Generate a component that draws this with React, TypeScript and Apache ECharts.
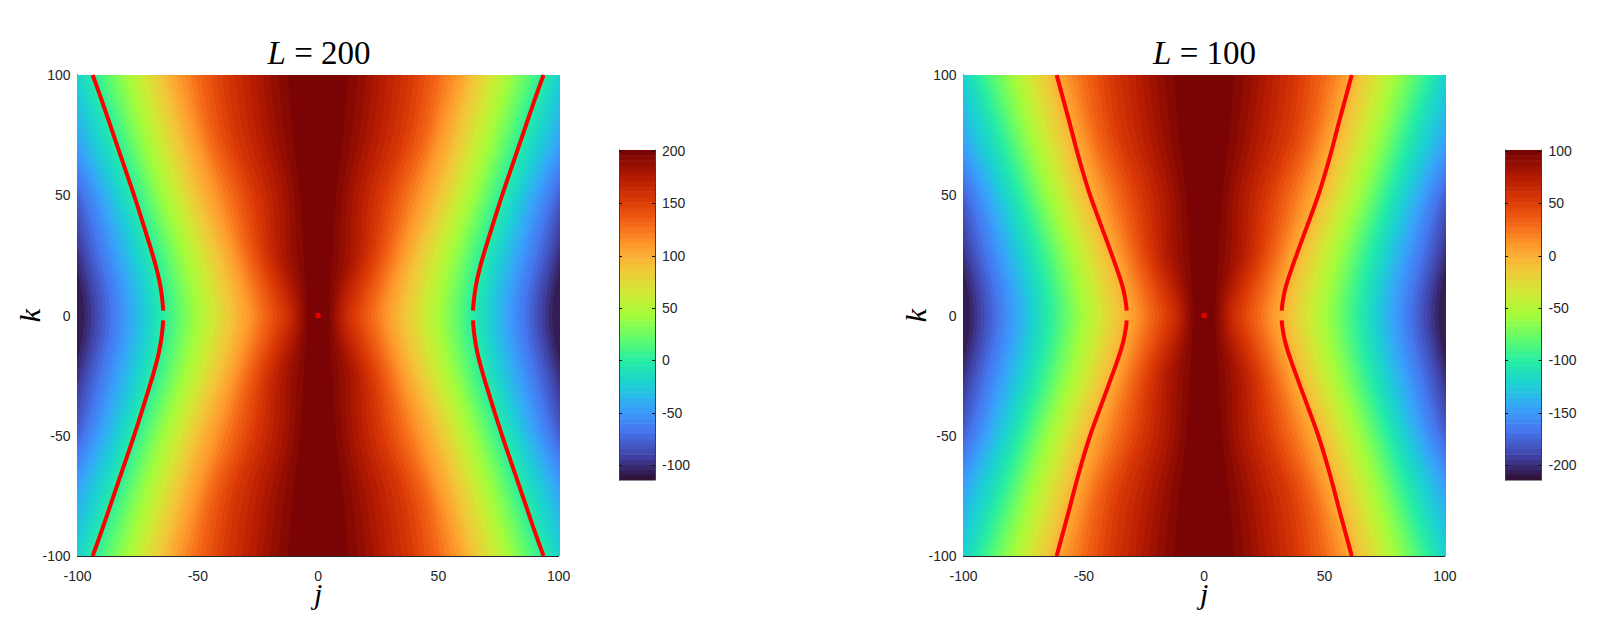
import React, { useEffect, useRef } from "react";
import * as echarts from "echarts";

const TITLES = [200, 100];
const BAR_TICKS_200 = [-100, -50, 0, 50, 100, 150, 200];
const BAR_TICKS_100 = [-200, -150, -100, -50, 0, 50, 100];
const SPAN = 315.16;
const BAND_COUNT = 64;

// Contour: how far L - value has dropped ...
const DROPS = [4.9, 9.8, 14.7, 19.6, 24.5, 29.5, 34.4, 39.3, 44.2, 49.1, 54, 58.9, 63.8, 68.7, 73.6, 78.5, 83.4, 88.4, 93.3, 98.2, 103.1, 108, 112.9, 117.8, 122.7, 127.6, 132.5, 137.4, 142.4, 147.3, 152.2, 157.1, 162, 166.9, 171.8, 176.7, 181.6, 186.5, 191.4, 196.4, 201.3, 206.2, 211.1, 216, 220.9, 225.8, 230.7, 235.6, 240.5, 245.4, 250.4, 255.3, 260.2, 265.1, 270, 274.9, 279.8, 284.7, 289.6, 294.5, 299.4, 304.3, 309.3];
// ... and the j of that contour at each row k.
const J_AT_K0 = [4.5, 5.8, 6.9, 7.9, 8.9, 10, 11.3, 12.6, 14, 15.5, 17.1, 18.7, 20.3, 21.9, 23.5, 25, 26.6, 28.2, 29.8, 31.5, 33.1, 34.7, 36.3, 37.9, 39.5, 41, 42.6, 44.2, 45.8, 47.4, 49, 50.6, 52.1, 53.7, 55.3, 56.9, 58.5, 60, 61.6, 63.2, 64.8, 66.4, 68, 69.5, 71, 72.6, 74.2, 75.7, 77.3, 78.9, 80.4, 82, 83.5, 85.1, 86.6, 88.2, 89.7, 91.2, 92.8, 94.3, 95.8, 97.3, 101];
const J_AT_K10 = [5, 6.6, 8, 9.4, 10.6, 12, 13.5, 15, 16.4, 18, 19.5, 21, 22.4, 24, 25.5, 27, 28.6, 30.2, 31.7, 33.2, 34.7, 36.3, 37.9, 39.4, 41, 42.5, 44.1, 45.6, 47.2, 48.7, 50.3, 51.8, 53.4, 54.9, 56.5, 58, 59.6, 61, 62.6, 64.1, 65.7, 67.3, 68.8, 70.4, 72, 73.5, 75, 76.6, 78.2, 79.7, 81.3, 82.9, 84.4, 86, 87.5, 89, 90.6, 92.1, 93.7, 95.2, 96.7, 98.2, 101.5];
const J_AT_K25 = [6, 8.6, 11, 13.1, 15, 16.8, 18.5, 20, 21.5, 23, 24.5, 26, 27.4, 28.8, 30.2, 31.6, 33, 34.6, 36, 37.5, 39, 40.5, 42, 43.5, 45, 46.5, 48, 49.5, 51, 52.5, 54, 55.5, 57, 58.5, 60, 61.5, 63, 64.5, 66, 67.5, 69, 70.6, 72.2, 73.8, 75.4, 77, 78.6, 80.2, 81.8, 83.4, 85, 86.5, 88.1, 89.7, 91.2, 92.8, 94.4, 95.9, 97.4, 98.9, 100.4, 102, 103.6];
const J_AT_K50 = [7.5, 10, 12.2, 14.4, 16.7, 19, 21.2, 23.4, 25.5, 27.5, 29.5, 31.4, 33.2, 35, 36.9, 38.8, 40.6, 42.4, 44.2, 46, 47.7, 49.3, 50.9, 52.4, 53.8, 55.3, 56.7, 58.1, 59.6, 61, 62.5, 64, 65.4, 66.9, 68.3, 69.8, 71.2, 72.7, 74.1, 75.5, 77, 78.5, 80, 81.5, 83, 84.5, 86.1, 87.6, 89.1, 90.7, 92.2, 93.7, 95.3, 96.8, 98.3, 99.8, 101.3, 102.9, 104.4, 106, 107.5, 109, 110.6];
const J_AT_K75 = [10.5, 14, 17, 19.8, 22.6, 25.5, 28.3, 31, 33.8, 36, 38.2, 40.3, 42.2, 44, 45.8, 47.4, 49, 50.6, 52.3, 54, 55.6, 57.1, 58.6, 60.1, 61.6, 63.1, 64.6, 66.1, 67.6, 69, 70.5, 72, 73.5, 75, 76.5, 78, 79.4, 80.9, 82.4, 83.9, 85.4, 87.1, 88.8, 90.6, 92.4, 94.2, 96, 97.8, 99.5, 101.2, 103, 104.8, 106.6, 108.3, 110, 111.7, 113.4, 115.1, 116.8, 118.5, 120.2, 121.9, 123.6];
const J_AT_K100 = [12.5, 16.5, 20, 23, 25.8, 28.7, 31.7, 34.7, 37.6, 40, 42.3, 44.5, 46.7, 48.9, 51, 53, 55.1, 57.3, 59.2, 60.6, 62, 63.6, 65.2, 66.8, 68.4, 70, 71.6, 73.2, 74.7, 76.2, 77.7, 79.3, 80.9, 82.6, 84.2, 85.8, 87.5, 89.1, 90.7, 92.3, 94, 95.6, 97.2, 98.8, 100.3, 102, 103.6, 105.2, 106.8, 108.4, 110, 111.6, 113.2, 114.8, 116.5, 118, 119.6, 121.2, 122.8, 124.4, 126, 127.6, 129.2];
const K_ROWS = [0, 10, 25, 50, 75, 100];
const J_ROWS = [J_AT_K0, J_AT_K10, J_AT_K25, J_AT_K50, J_AT_K75, J_AT_K100];

// Red zero contour, upper right quadrant of each panel.
const CURVE_K = [2, 5, 10, 15, 20, 25, 30, 40, 50, 60, 70, 80, 90, 100];
const CURVE_J_200 = [64.4, 64.6, 65.2, 66.1, 67.3, 68.7, 70.2, 73.3, 76.5, 79.9, 83.3, 86.7, 90.1, 93.7];
const CURVE_J_100 = [32.2, 32.5, 33.4, 34.8, 36.5, 38.3, 40.1, 43.8, 47.4, 50.5, 53.3, 55.9, 58.6, 61.3];

const TURBO = ["#30123b", "#4145ab", "#4675ed", "#39a2fc", "#1bcfd4", "#24eca6", "#61fc6c", "#a4fc3b", "#d1e834", "#f3c63a", "#fe9b2d", "#f36315", "#d93806", "#b11901", "#7a0403"];

const SERIF = "'Liberation Serif', serif";
const SANS = "'Liberation Sans', Arial, sans-serif";
const INK = "#262626";

function mapColor(t: number) {
  const p = Math.max(0, Math.min(1, t)) * (TURBO.length - 1);
  const a = Math.floor(p);
  const b = Math.min(TURBO.length - 1, a + 1);
  const f = p - a;
  const hex = (s: string, o: number) => parseInt(s.slice(o, o + 2), 16);
  const c = [1, 3, 5].map((o) => Math.round(hex(TURBO[a], o) * (1 - f) + hex(TURBO[b], o) * f));
  return `rgb(${c[0]},${c[1]},${c[2]})`;
}

function contourPoints(level: number) {
  const last = K_ROWS.length - 1;
  // one vertex past the plot (clipped away) so that the curve leaves the frame without rounding off
  const beyond = 2 * J_ROWS[last][level] - J_ROWS[last - 1][level];
  const right: number[][] = [[beyond, -125]];
  for (let r = last; r >= 0; r--) right.push([J_ROWS[r][level], -K_ROWS[r]]);
  for (let r = 1; r <= last; r++) right.push([J_ROWS[r][level], K_ROWS[r]]);
  right.push([beyond, 125]);
  const left = right.map(([j, k]) => [-j, k]).reverse();
  return right.concat(left);
}

function fieldSeries(index: number) {
  const data = DROPS.map((_, i) => [i]).reverse();
  return {
    type: "custom",
    xAxisIndex: index,
    yAxisIndex: index,
    clip: true,
    silent: true,
    data,
    renderItem: (_p: any, api: any) => {
      const level = api.value(0);
      return {
        type: "polygon",
        shape: { points: contourPoints(level).map((p) => api.coord(p)), smooth: 0.35 },
        style: { fill: mapColor(1 - level / 63), stroke: null },
      };
    },
  };
}

function curveSeries(index: number, js: number[]) {
  const quads = [[1, 1], [-1, 1], [1, -1], [-1, -1]];
  return quads.map(([sx, sy]) => ({
    type: "line",
    xAxisIndex: index,
    yAxisIndex: index,
    clip: false,
    silent: true,
    showSymbol: false,
    symbol: "none",
    smooth: 0.3,
    z: 5,
    lineStyle: { color: "#ff0000", width: 4, cap: "butt" },
    data: CURVE_K.map((k, i) => [sx * js[i], sy * k]),
  }));
}

function dotSeries(index: number) {
  return {
    type: "scatter",
    xAxisIndex: index,
    yAxisIndex: index,
    symbol: "rect",
    symbolSize: 5,
    silent: true,
    z: 5,
    itemStyle: { color: "#ff0000" },
    data: [[0, 0]],
  };
}

function barSeries(xIndex: number, yIndex: number, min: number) {
  const data = Array.from({ length: BAND_COUNT }, (_, i) => [i]);
  return {
    type: "custom",
    xAxisIndex: xIndex,
    yAxisIndex: yIndex,
    silent: true,
    data,
    renderItem: (_p: any, api: any) => {
      const i = api.value(0);
      const a = api.coord([0, min + (i * SPAN) / BAND_COUNT]);
      const b = api.coord([1, min + ((i + 1) * SPAN) / BAND_COUNT]);
      return {
        type: "rect",
        shape: { x: a[0], y: b[1], width: b[0] - a[0], height: a[1] - b[1] + 0.5 },
        style: { fill: mapColor(i / 63) },
      };
    },
  };
}

function mainX(gridIndex: number, name: string) {
  return {
    gridIndex,
    type: "value",
    min: -100,
    max: 100,
    interval: 50,
    name,
    nameLocation: "middle",
    nameGap: 28,
    nameMoveOverlap: false,
    nameTextStyle: { fontFamily: SERIF, fontStyle: "italic", fontSize: 30, lineHeight: 18, color: "#000" },
    splitLine: { show: false },
    axisLine: { show: true, onZero: false, lineStyle: { color: INK, width: 1 } },
    axisTick: { show: true, inside: true, length: 5, lineStyle: { color: INK } },
    axisLabel: { fontFamily: SANS, fontSize: 14, color: INK, margin: 13 },
  };
}

function mainY(gridIndex: number, name: string) {
  return {
    gridIndex,
    type: "value",
    min: -100,
    max: 100,
    interval: 50,
    name,
    nameLocation: "middle",
    nameRotate: 90,
    nameGap: 33,
    nameMoveOverlap: false,
    nameTextStyle: { fontFamily: SERIF, fontStyle: "italic", fontSize: 30, color: "#000" },
    splitLine: { show: false },
    axisLine: { show: true, onZero: false, lineStyle: { color: INK, width: 1 } },
    axisTick: { show: true, inside: true, length: 5, lineStyle: { color: INK } },
    axisLabel: { fontFamily: SANS, fontSize: 14, color: INK, margin: 7, padding: [3, 0, 0, 0] },
  };
}

function barX(gridIndex: number) {
  return { gridIndex, type: "value", min: 0, max: 1, show: false };
}

function barY(gridIndex: number, min: number, max: number, ticks: number[], position: string, labels: boolean) {
  return {
    gridIndex,
    type: "value",
    min,
    max,
    position,
    z: 5,
    splitLine: { show: false },
    axisLine: { show: true, onZero: false, lineStyle: { color: "#404040", width: 1 } },
    axisTick: { show: true, inside: true, length: 3, lineStyle: { color: "#111" }, customValues: ticks },
    axisLabel: { show: labels, fontFamily: SANS, fontSize: 14, color: INK, margin: 7, padding: [3, 0, 0, 0], customValues: ticks },
  };
}

function titleOf(value: number, x: number) {
  return {
    text: `{i|L}{r| = ${value}}`,
    left: x,
    top: 31,
    textAlign: "center",
    textStyle: {
      fontWeight: "normal",
      rich: {
        i: { fontFamily: SERIF, fontStyle: "italic", fontWeight: "normal", fontSize: 33, color: "#000" },
        r: { fontFamily: SERIF, fontWeight: "normal", fontSize: 33, color: "#000" },
      },
    },
  };
}

export default function App() {
  const ref = useRef<HTMLDivElement>(null);
  useEffect(() => {
    const chart = echarts.init(ref.current!, null, { renderer: "svg" });
    const fieldGrid = { show: true, backgroundColor: TURBO[0], borderWidth: 0 };
    chart.setOption({
      animation: false,
      backgroundColor: "#ffffff",
      title: [titleOf(TITLES[0], 314), titleOf(TITLES[1], 1199.5)],
      grid: [
        { ...fieldGrid, left: 77.5, top: 75, width: 481.2, height: 481 },
        { ...fieldGrid, left: 963.5, top: 75, width: 481.4, height: 481 },
        { left: 619, top: 150, width: 36, height: 330 },
        { left: 1505, top: 150, width: 36.5, height: 330 },
      ],
      xAxis: [mainX(0, "j"), mainX(1, "j"), barX(2), barX(3)],
      yAxis: [
        mainY(0, "k"),
        mainY(1, "k"),
        barY(2, 200 - 314.16, 201, BAR_TICKS_200, "right", true),
        barY(2, 200 - 314.16, 201, BAR_TICKS_200, "left", false),
        barY(3, 100 - 314.16, 101, BAR_TICKS_100, "right", true),
        barY(3, 100 - 314.16, 101, BAR_TICKS_100, "left", false),
      ],
      series: [
        fieldSeries(0),
        fieldSeries(1),
        ...curveSeries(0, CURVE_J_200),
        ...curveSeries(1, CURVE_J_100),
        dotSeries(0),
        dotSeries(1),
        barSeries(2, 2, 200 - 314.16),
        barSeries(3, 4, 100 - 314.16),
      ],
    });
    return () => chart.dispose();
  }, []);
  return <div ref={ref} style={{ position: "fixed", left: 0, top: 0, width: 1611, height: 640 }} />;
}
